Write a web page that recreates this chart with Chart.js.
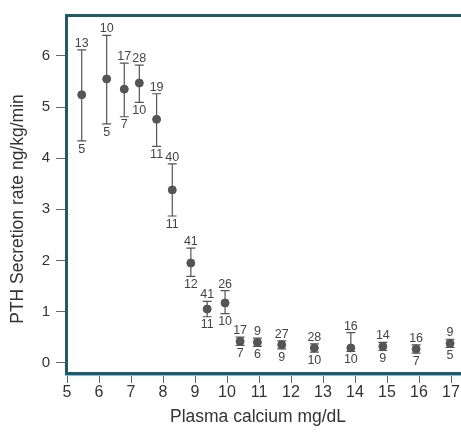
<!DOCTYPE html>
<html>
<head>
<meta charset="utf-8">
<script src="https://cdn.jsdelivr.net/npm/chart.js@4/dist/chart.umd.min.js"></script>
<style>
  html, body { margin: 0; padding: 0; background: #ffffff; overflow: hidden; width: 461px; height: 433px; }
  canvas { display: block; }
</style>
</head>
<body>
<canvas id="c" width="490" height="433"></canvas>
<script>
// Plasma calcium (mg/dL)
const calcium = [5.46, 6.24, 6.79, 7.26, 7.80, 8.29, 8.87, 9.38, 9.94, 10.41, 10.95, 11.71, 12.73, 13.87, 14.87, 15.91, 16.97];
// PTH secretion rate (ng/kg/min) mean
const pthMean = [5.24, 5.55, 5.35, 5.47, 4.76, 3.38, 1.95, 1.05, 1.17, 0.42, 0.40, 0.35, 0.29, 0.29, 0.32, 0.27, 0.38];
// error bar upper / lower ends
const pthUpper = [6.12, 6.40, 5.86, 5.82, 5.26, 3.89, 2.24, 1.20, 1.41, 0.50, 0.48, 0.43, 0.37, 0.59, 0.40, 0.35, 0.46];
const pthLower = [4.34, 4.67, 4.81, 5.09, 4.23, 2.87, 1.69, 0.90, 0.96, 0.34, 0.32, 0.27, 0.21, 0.22, 0.24, 0.19, 0.30];
// numbers printed above and below each bar
const labelTop = ['13', '10', '17', '28', '19', '40', '41', '41', '26', '17', '9', '27', '28', '16', '14', '16', '9'];
const labelBottom = ['5', '5', '7', '10', '11', '11', '12', '11', '10', '7', '6', '9', '10', '10', '9', '7', '5'];
const xTicks = [5, 6, 7, 8, 9, 10, 11, 12, 13, 14, 15, 16, 17];
const yTicks = [0, 1, 2, 3, 4, 5, 6];
const xTitle = 'Plasma calcium mg/dL';
const yTitle = 'PTH Secretion rate ng/kg/min';

const FONT = '"Liberation Sans", Arial, Helvetica, sans-serif';
const INK = '#555555';

const errorBarPlugin = {
  id: 'errorBars',
  beforeDatasetsDraw(chart) {
    const ctx = chart.ctx;
    const xs = chart.scales.x, ys = chart.scales.y;
    ctx.save();
    ctx.strokeStyle = INK;
    ctx.lineWidth = 1.2;
    for (let i = 0; i < calcium.length; i++) {
      const px = xs.getPixelForValue(calcium[i]);
      const pu = ys.getPixelForValue(pthUpper[i]);
      const pl = ys.getPixelForValue(pthLower[i]);
      ctx.beginPath();
      ctx.moveTo(px, pu); ctx.lineTo(px, pl);
      ctx.moveTo(px - 4.5, pu); ctx.lineTo(px + 4.5, pu);
      ctx.moveTo(px - 4.5, pl); ctx.lineTo(px + 4.5, pl);
      ctx.stroke();
    }
    ctx.restore();
  },
  afterDatasetsDraw(chart) {
    const ctx = chart.ctx;
    const xs = chart.scales.x, ys = chart.scales.y;
    ctx.save();
    ctx.fillStyle = '#444444';
    ctx.font = '12.5px ' + FONT;
    ctx.textAlign = 'center';
    for (let i = 0; i < calcium.length; i++) {
      const px = xs.getPixelForValue(calcium[i]);
      const pu = ys.getPixelForValue(pthUpper[i]);
      const pl = ys.getPixelForValue(pthLower[i]);
      ctx.textBaseline = 'alphabetic';
      ctx.fillText(labelTop[i], px, pu - 3);
      ctx.textBaseline = 'top';
      ctx.fillText(labelBottom[i], px, pl + 2);
    }
    ctx.restore();
  },
  afterDraw(chart) {
    const ctx = chart.ctx;
    const a = chart.chartArea;
    ctx.save();
    // frame
    ctx.strokeStyle = '#245a68';
    ctx.lineWidth = 3;
    ctx.strokeRect(a.left - 0.5, a.top + 0.5, a.right - a.left + 20, a.bottom - a.top);
    ctx.strokeStyle = '#7fc3d6';
    ctx.lineWidth = 1;
    ctx.beginPath();
    ctx.moveTo(a.left - 2, a.bottom + 2.5); ctx.lineTo(a.right + 20, a.bottom + 2.5);
    ctx.stroke();
    // axis titles
    ctx.fillStyle = '#333333';
    ctx.font = '17.5px ' + FONT;
    ctx.textAlign = 'center';
    ctx.textBaseline = 'alphabetic';
    ctx.fillText(xTitle, 258, 422);
    ctx.translate(23, 209);
    ctx.rotate(-Math.PI / 2);
    ctx.fillText(yTitle, 0, 0);
    ctx.restore();
  }
};

new Chart(document.getElementById('c'), {
  type: 'scatter',
  data: {
    datasets: [{
      data: calcium.map((x, i) => ({ x: x, y: pthMean[i] })),
      backgroundColor: INK,
      borderColor: INK,
      pointRadius: 4,
      pointHoverRadius: 4
    }]
  },
  options: {
    responsive: false,
    animation: false,
    devicePixelRatio: 1,
    layout: { padding: { top: 14, right: 7, left: 0, bottom: 0 } },
    plugins: { legend: { display: false }, tooltip: { enabled: false } },
    scales: {
      x: {
        type: 'linear',
        min: 5, max: 18,
        border: { display: false },
        grid: { drawOnChartArea: false, drawTicks: true, tickLength: 10, color: '#666666', lineWidth: 1 },
        ticks: { stepSize: 1, color: '#333333', font: { family: FONT, size: 16 }, padding: 0, maxRotation: 0, autoSkip: false },
        afterBuildTicks(s) { s.ticks = xTicks.map(v => ({ value: v })); },
        afterFit(s) { s.height = 60; }
      },
      y: {
        type: 'linear',
        min: -0.2, max: 6.8,
        border: { display: false },
        grid: { drawOnChartArea: false, drawTicks: true, tickLength: 11, color: '#666666', lineWidth: 1 },
        ticks: { stepSize: 1, color: '#333333', font: { family: FONT, size: 15 }, padding: 6 },
        afterBuildTicks(s) { s.ticks = yTicks.map(v => ({ value: v })); },
        afterFit(s) { s.width = 67; }
      }
    }
  },
  plugins: [errorBarPlugin]
});
</script>
</body>
</html>
